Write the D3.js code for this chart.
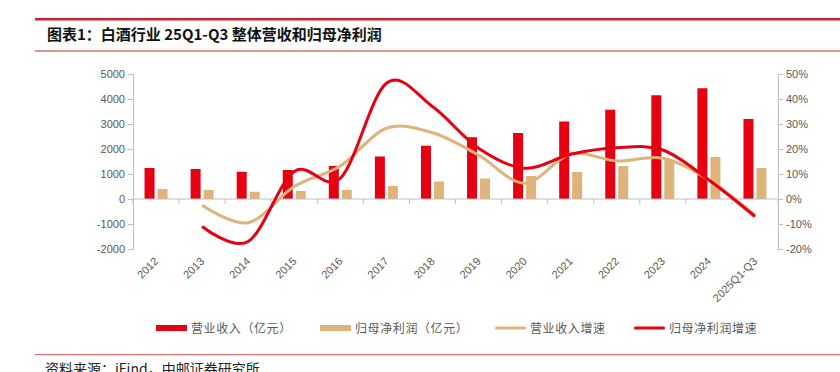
<!DOCTYPE html>
<html>
<head>
<meta charset="utf-8">
<script src="https://cdn.jsdelivr.net/npm/d3@7"></script>
<style>
  html, body { margin: 0; padding: 0; background: #fff; }
  #vis { width: 840px; height: 372px; }
</style>
</head>
<body>
<div id="vis"></div>
<script>
// categories and series (revenue / net profit in 亿元, growth in %)
var years = ["2012", "2013", "2014", "2015", "2016", "2017", "2018", "2019", "2020", "2021", "2022", "2023", "2024", "2025Q1-Q3"];
var revenue = [1240, 1200, 1090, 1160, 1320, 1700, 2130, 2470, 2640, 3100, 3570, 4150, 4430, 3200];
var netProfit = [400, 360, 290, 320, 360, 520, 700, 820, 920, 1080, 1320, 1560, 1680, 1240];
var revenueGrowth = [null, -2.5, -9.5, 5, 13.2, 28.3, 26.5, 17.6, 6.3, 18, 15.2, 16.3, 7.6, -6.4];
var profitGrowth = [null, -11, -17, 11, 8.3, 46.3, 37, 20.3, 12.3, 17.9, 20.5, 19.6, 7.6, -7];
var leftTicks = [-2000, -1000, 0, 1000, 2000, 3000, 4000, 5000];
var rightTicks = [-20, -10, 0, 10, 20, 30, 40, 50];

var RED = "#e50012", TAN = "#deb47a", GREY = "#595959", AXIS = "#bfbfbf";
var CJK = "'Noto Sans CJK SC', 'Noto Sans', sans-serif";
var LATIN = "'Liberation Sans', Arial, sans-serif";

var svg = d3.select("#vis").append("svg")
    .attr("width", 840)
    .attr("height", 372);

// title block
svg.append("rect").attr("x", 35).attr("y", 18).attr("width", 805).attr("height", 2.5).attr("fill", "#c8202c");
svg.append("text")
    .attr("x", 47).attr("y", 40)
    .attr("font-family", CJK).attr("font-weight", 700).attr("font-size", "15px")
    .attr("fill", "#111")
    .text("图表1：白酒行业 25Q1-Q3 整体营收和归母净利润");
svg.append("rect").attr("x", 35).attr("y", 50.5).attr("width", 805).attr("height", 1).attr("fill", "#c03030");

var margin = { left: 133, right: 778, top: 74, bottom: 249 };

var x = d3.scaleBand()
    .domain(years)
    .range([margin.left, margin.right]);

var yL = d3.scaleLinear().domain([-2000, 5000]).range([margin.bottom, margin.top]);
var yR = d3.scaleLinear().domain([-20, 50]).range([margin.bottom, margin.top]);

// left axis
var gL = svg.append("g")
    .attr("transform", "translate(" + margin.left + ",0)")
    .call(d3.axisLeft(yL).tickValues(leftTicks).tickSize(5).tickPadding(3).tickFormat(function (d) { return String(d); }));
gL.selectAll("text").attr("font-family", LATIN).attr("font-size", "11px").attr("fill", GREY);

// right axis
var gR = svg.append("g")
    .attr("transform", "translate(" + margin.right + ",0)")
    .call(d3.axisRight(yR).tickValues(rightTicks).tickSize(5).tickPadding(3).tickFormat(function (d) { return d + "%"; }));
gR.selectAll("text").attr("font-family", LATIN).attr("font-size", "11px").attr("fill", GREY);

svg.selectAll("path.domain").attr("stroke", AXIS);
svg.selectAll(".tick line").attr("stroke", AXIS);

// bars
var bw = 10, gap = 3;
svg.selectAll("rect.rev")
    .data(revenue)
    .enter().append("rect")
    .attr("class", "rev")
    .attr("x", function (d, i) { return x(years[i]) + x.bandwidth() / 2 - gap / 2 - bw; })
    .attr("y", function (d) { return yL(d); })
    .attr("width", bw)
    .attr("height", function (d) { return yL(0) - yL(d); })
    .attr("fill", RED);

svg.selectAll("rect.np")
    .data(netProfit)
    .enter().append("rect")
    .attr("class", "np")
    .attr("x", function (d, i) { return x(years[i]) + x.bandwidth() / 2 + gap / 2; })
    .attr("y", function (d) { return yL(d); })
    .attr("width", bw)
    .attr("height", function (d) { return yL(0) - yL(d); })
    .attr("fill", TAN);

// category axis at zero
var gX = svg.append("g").attr("transform", "translate(0," + yL(0) + ")");
gX.append("line")
    .attr("x1", margin.left).attr("x2", margin.right)
    .attr("stroke", AXIS);
gX.selectAll("line.tk")
    .data(d3.range(years.length + 1))
    .enter().append("line")
    .attr("class", "tk")
    .attr("x1", function (i) { return margin.left + i * x.step(); })
    .attr("x2", function (i) { return margin.left + i * x.step(); })
    .attr("y1", 0).attr("y2", 5)
    .attr("stroke", AXIS);

svg.selectAll("text.xl")
    .data(years)
    .enter().append("text")
    .attr("class", "xl")
    .attr("transform", function (d) {
        return "translate(" + (x(d) + x.bandwidth() / 2 + 3) + ",262) rotate(-45)";
    })
    .attr("text-anchor", "end")
    .attr("font-family", LATIN).attr("font-size", "11px").attr("fill", GREY)
    .text(function (d) { return d; });

// growth lines
function growthLine(vals) {
    var pts = vals.map(function (v, i) { return [x(years[i]) + x.bandwidth() / 2, v]; })
        .filter(function (p) { return p[1] !== null; });
    return d3.line()
        .x(function (p) { return p[0]; })
        .y(function (p) { return yR(p[1]); })
        .curve(d3.curveCardinal.tension(0))(pts);
}

svg.append("path")
    .attr("d", growthLine(revenueGrowth))
    .attr("fill", "none").attr("stroke", TAN).attr("stroke-width", 3);

svg.append("path")
    .attr("d", growthLine(profitGrowth))
    .attr("fill", "none").attr("stroke", RED).attr("stroke-width", 3);

// legend
var legend = [
    { label: "营业收入（亿元）", color: RED, type: "bar", x: 156 },
    { label: "归母净利润（亿元）", color: TAN, type: "bar", x: 320 },
    { label: "营业收入增速", color: TAN, type: "line", x: 495 },
    { label: "归母净利润增速", color: RED, type: "line", x: 634 }
];
var lg = svg.selectAll("g.lg").data(legend).enter().append("g")
    .attr("class", "lg")
    .attr("transform", function (d) { return "translate(" + d.x + ",328)"; });
lg.append("rect")
    .attr("x", 0).attr("width", 31)
    .attr("y", function (d) { return d.type === "bar" ? -3 : -1.5; })
    .attr("height", function (d) { return d.type === "bar" ? 6 : 3; })
    .attr("rx", function (d) { return d.type === "bar" ? 0 : 1.5; })
    .attr("fill", function (d) { return d.color; });
lg.append("text")
    .attr("x", 35).attr("y", 4.5)
    .attr("font-family", CJK).attr("font-size", "12px").attr("fill", GREY)
    .attr("letter-spacing", "0.6px")
    .text(function (d) { return d.label; });

// source (cut by the bottom edge, as in the original)
svg.append("rect").attr("x", 35).attr("y", 354).attr("width", 805).attr("height", 1.2).attr("fill", "#e07070");
svg.append("text")
    .attr("x", 45).attr("y", 374)
    .attr("font-family", CJK).attr("font-size", "14px").attr("fill", "#222")
    .text("资料来源：iFind，中邮证券研究所");
</script>
</body>
</html>
